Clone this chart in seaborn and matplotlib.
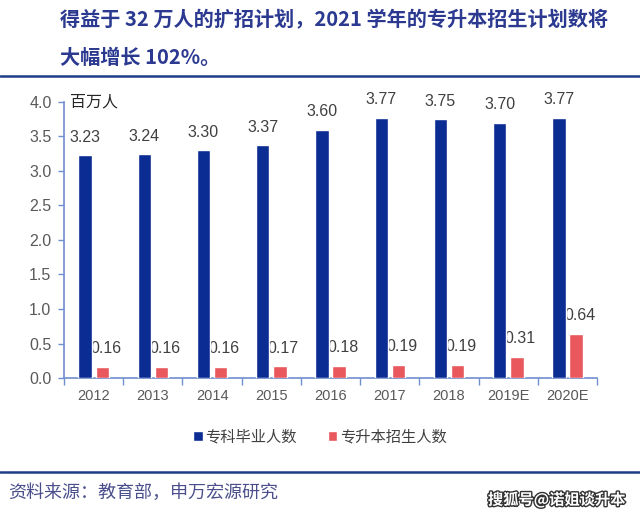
import matplotlib
matplotlib.use("Agg")
import matplotlib.pyplot as plt
import matplotlib.patheffects as pe
from matplotlib.patches import Patch
import seaborn as sns
import pandas as pd
import numpy as np

years = ["2012", "2013", "2014", "2015", "2016", "2017", "2018", "2019E", "2020E"]
graduates = [3.23, 3.24, 3.30, 3.37, 3.60, 3.77, 3.75, 3.70, 3.77]
upgrade = [0.16, 0.16, 0.16, 0.17, 0.18, 0.19, 0.19, 0.31, 0.64]
series_names = ["专科毕业人数", "专升本招生人数"]
title_lines = ["得益于 32 万人的扩招计划，2021 学年的专升本招生计划数将", "大幅增长 102%。"]
unit_label = "百万人"
source_text = "资料来源：教育部，申万宏源研究"
watermark = "搜狐号@诺姐谈升本"

sns.set_theme(style="white")
CJK = ["Noto Sans CJK SC", "DejaVu Sans"]
NUM = ["Liberation Sans", "Noto Sans CJK SC", "DejaVu Sans"]
plt.rcParams["font.family"] = CJK

blue = "#0b2c93"
red = "#e8585c"
gray = "#595959"
spine_c = "#6f8fcf"
navy = "#2b3990"

df = pd.DataFrame({
    "year": years * 2,
    "value": graduates + upgrade,
    "series": [series_names[0]] * len(years) + [series_names[1]] * len(years),
})

fig = plt.figure(figsize=(6.4, 5.2), dpi=100)
ax = fig.add_axes([0.1, 0.273, 0.833, 0.531])
sns.barplot(data=df, x="year", y="value", hue="series", order=years,
            hue_order=series_names, palette=[blue, red], width=0.58, gap=0.22,
            ax=ax, legend=False, zorder=3, saturation=1)

ax.set_ylim(0, 4.0)
ax.set_xlim(-0.5, len(years) - 0.5)
ax.set_yticks(np.arange(0, 4.01, 0.5))
ax.set_yticklabels([f"{v:.1f}" for v in np.arange(0, 4.01, 0.5)])
ax.set_xlabel("")
ax.set_ylabel("")
for lab in ax.get_yticklabels():
    lab.set_family(NUM)
    lab.set_color(gray)
    lab.set_fontsize(11.5)
for lab in ax.get_xticklabels():
    lab.set_family(NUM)
    lab.set_color(gray)
    lab.set_fontsize(10.5)

ax.set_xticks(np.arange(len(years)))
ax.set_xticks(np.arange(-0.5, len(years), 1.0), minor=True)
ax.tick_params(axis="x", which="major", length=0, pad=8)
ax.tick_params(axis="x", which="minor", length=5, color=spine_c, width=1, direction="out", bottom=True)
ax.tick_params(axis="y", length=4, color=spine_c, width=1, direction="out", left=True, pad=5)

for s in ["top", "right"]:
    ax.spines[s].set_visible(False)
for s in ["left", "bottom"]:
    ax.spines[s].set_color(spine_c)
    ax.spines[s].set_linewidth(1.2)
ax.grid(False)

# value labels
for cont, vals, dx in zip(ax.containers, [graduates, upgrade], [0, 2.5]):
    for bar, v in zip(cont, vals):
        ax.annotate(f"{v:.2f}", (bar.get_x() + bar.get_width() / 2, bar.get_height()),
                    xytext=(dx, 13), textcoords="offset points", ha="center", va="center",
                    fontsize=11.5, color="#404040", family=NUM, zorder=1)

ax.text(0.012, 1.0, unit_label, transform=ax.transAxes, ha="left", va="center",
        fontsize=11.5, color="#262626")

# legend
handles = [Patch(facecolor=blue), Patch(facecolor=red)]
fig.legend(handles, series_names, loc="center", bbox_to_anchor=(0.5, 0.16), ncol=2,
           frameon=False, fontsize=11, handlelength=0.6, handleheight=0.6,
           handletextpad=0.2, columnspacing=2.0, labelcolor="#404040")

# title
fig.text(0.094, 1 - 20 / 520, title_lines[0], ha="left", va="center", fontsize=14.5,
         fontweight="bold", color=navy)
fig.text(0.094, 1 - 58 / 520, title_lines[1], ha="left", va="center", fontsize=14.5,
         fontweight="bold", color=navy)

# rule lines
fig.add_artist(plt.Line2D([0, 1], [1 - 76 / 520] * 2, color="#1f3c88", lw=1.8,
                          transform=fig.transFigure))
fig.add_artist(plt.Line2D([0, 1], [1 - 472 / 520] * 2, color="#1f3c88", lw=1.8,
                          transform=fig.transFigure))

fig.text(0.012, 1 - 493 / 520, source_text, ha="left", va="center", fontsize=13,
         color="#4a4f8c")
fig.text(0.977, 1 - 500 / 520, watermark, ha="right", va="center", fontsize=11,
         color="white", fontweight="bold",
         path_effects=[pe.withStroke(linewidth=2, foreground="#333333")])

fig.savefig("out.png", dpi=100)
